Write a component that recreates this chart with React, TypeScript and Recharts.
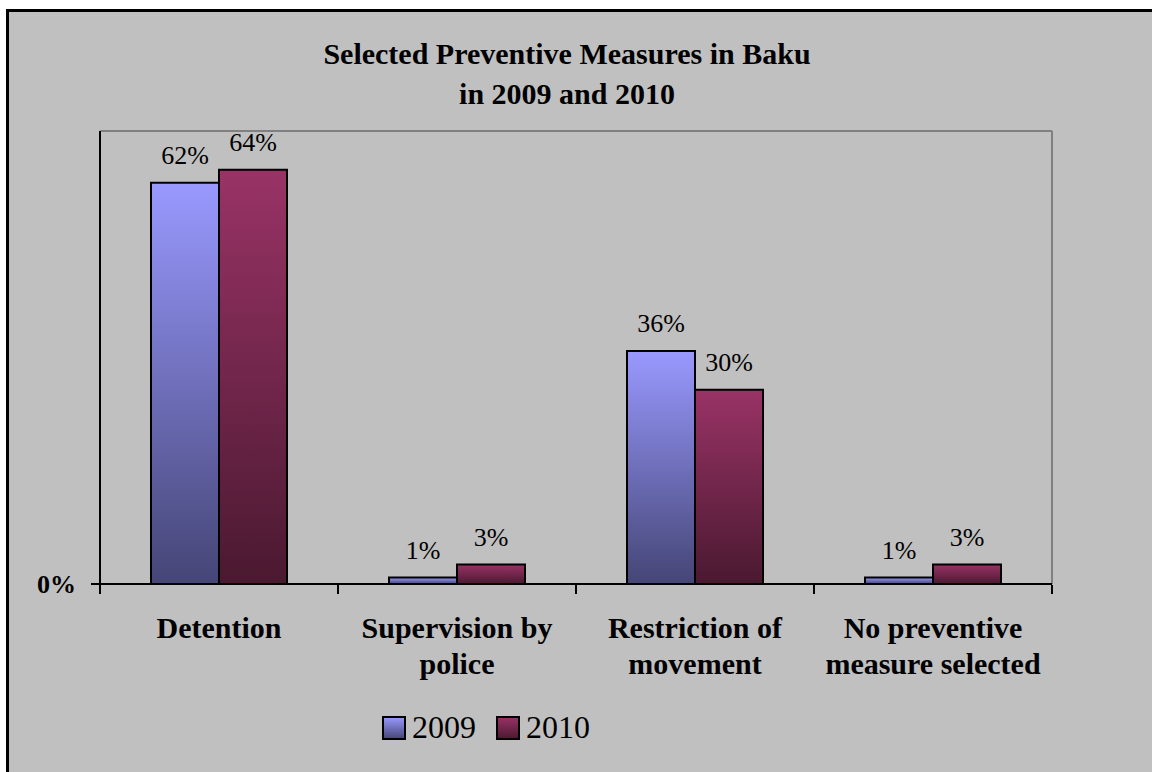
import React from 'react';
import { BarChart, Bar, XAxis, YAxis, LabelList, Legend, ReferenceLine } from 'recharts';

const categories = [
  'Detention',
  'Supervision by\npolice',
  'Restriction of\nmovement',
  'No preventive\nmeasure selected',
];
const values2009 = [0.62, 0.01, 0.36, 0.01];
const values2010 = [0.64, 0.03, 0.3, 0.03];
const yTicks = [0];
const dividerTicks = [0, 1, 2, 3, 4];

// slot = category index, only used by the hidden numeric axis that draws the divider ticks
const data = categories.map((name, i) => ({ name, slot: i, y2009: values2009[i], y2010: values2010[i] }));

const SERIF = "'Liberation Serif', 'Times New Roman', Times, serif";
const pct = (v: number) => `${Math.round(v * 100)}%`;

function CategoryTick({ x, y, payload }: any) {
  const lines = String(payload.value).split('\n');
  return (
    <text x={x} y={y} textAnchor="middle" fontFamily={SERIF} fontSize={30} fontWeight="bold" fill="#000">
      {lines.map((line, i) => (
        <tspan key={i} x={x} dy={i === 0 ? 54 : 36}>
          {line}
        </tspan>
      ))}
    </text>
  );
}

function LegendContent({ payload }: any) {
  return (
    <svg width={230} height={44} style={{ display: 'block' }}>
      {(payload || []).map((entry: any, i: number) => {
        const x0 = i * 114;
        return (
          <g key={entry.value}>
            <rect x={x0 + 1} y={12} width={22} height={22} fill={`url(#grad-${entry.dataKey})`} stroke="#000" strokeWidth={2} />
            <text x={x0 + 30} y={33} fontFamily={SERIF} fontSize={32} fill="#000">
              {entry.value}
            </text>
          </g>
        );
      })}
    </svg>
  );
}

export default function App() {
  return (
    <div style={{ position: 'absolute', left: 0, top: 0, width: 1152, height: 772, background: '#fff', overflow: 'hidden' }}>
      <div
        style={{
          position: 'absolute',
          left: 6,
          top: 9,
          right: 0,
          bottom: 0,
          borderTop: '3px solid #000',
          borderLeft: '3px solid #000',
          background: '#c0c0c0',
        }}
      />
      <div
        style={{
          position: 'absolute',
          left: 0,
          top: 34,
          width: 1134,
          textAlign: 'center',
          fontFamily: SERIF,
          fontSize: 30,
          fontWeight: 'bold',
          lineHeight: '40px',
          color: '#000',
          zIndex: 2,
        }}
      >
        Selected Preventive Measures in Baku
        <br />
        in 2009 and 2010
      </div>
      <div style={{ position: 'absolute', left: 0, top: 0 }}>
        <BarChart
          width={1152}
          height={772}
          data={data}
          margin={{ top: 131, right: 100, bottom: 186, left: 40 }}
          barCategoryGap={51}
          barGap={0}
        >
          <defs>
            <linearGradient id="grad-y2009" x1="0" y1="0" x2="0" y2="1">
              <stop offset="0%" stopColor="#9999ff" />
              <stop offset="100%" stopColor="#454576" />
            </linearGradient>
            <linearGradient id="grad-y2010" x1="0" y1="0" x2="0" y2="1">
              <stop offset="0%" stopColor="#993366" />
              <stop offset="100%" stopColor="#4a1930" />
            </linearGradient>
          </defs>
          <XAxis
            dataKey="name"
            height={1}
            interval={0}
            tickLine={false}
            tickSize={0}
            tickMargin={0}
            axisLine={{ stroke: '#000', strokeWidth: 2 }}
            tick={CategoryTick}
          />
          <XAxis
            xAxisId="grid"
            dataKey="slot"
            type="number"
            domain={[0, 4]}
            ticks={dividerTicks}
            allowDataOverflow
            height={1}
            axisLine={false}
            tickSize={9}
            tickLine={{ stroke: '#000', strokeWidth: 2 }}
            tick={() => <g />}
          />
          <YAxis
            width={60}
            domain={[0, 0.7]}
            ticks={yTicks}
            allowDataOverflow
            axisLine={{ stroke: '#000', strokeWidth: 2 }}
            tickLine={{ stroke: '#000', strokeWidth: 2 }}
            tickSize={9}
            tickMargin={15}
            tickFormatter={pct}
            tick={{ fontFamily: SERIF, fontSize: 26, fontWeight: 'bold', fill: '#000' }}
          />
          <ReferenceLine y={0.7} stroke="#808080" strokeWidth={2} />
          <ReferenceLine x={4} xAxisId="grid" stroke="#808080" strokeWidth={2} ifOverflow="visible" />
          <Legend
            verticalAlign="middle"
            align="center"
            layout="horizontal"
            content={<LegendContent />}
            wrapperStyle={{ top: 705, left: 382, width: 230, height: 44 }}
          />
          <Bar dataKey="y2009" name="2009" fill="url(#grad-y2009)" stroke="#000" strokeWidth={2} isAnimationActive={false}>
            <LabelList dataKey="y2009" position="top" offset={19} formatter={pct} style={{ fontFamily: SERIF, fontSize: 26, fill: '#000' }} />
          </Bar>
          <Bar dataKey="y2010" name="2010" fill="url(#grad-y2010)" stroke="#000" strokeWidth={2} isAnimationActive={false}>
            <LabelList dataKey="y2010" position="top" offset={19} formatter={pct} style={{ fontFamily: SERIF, fontSize: 26, fill: '#000' }} />
          </Bar>
        </BarChart>
      </div>
    </div>
  );
}
